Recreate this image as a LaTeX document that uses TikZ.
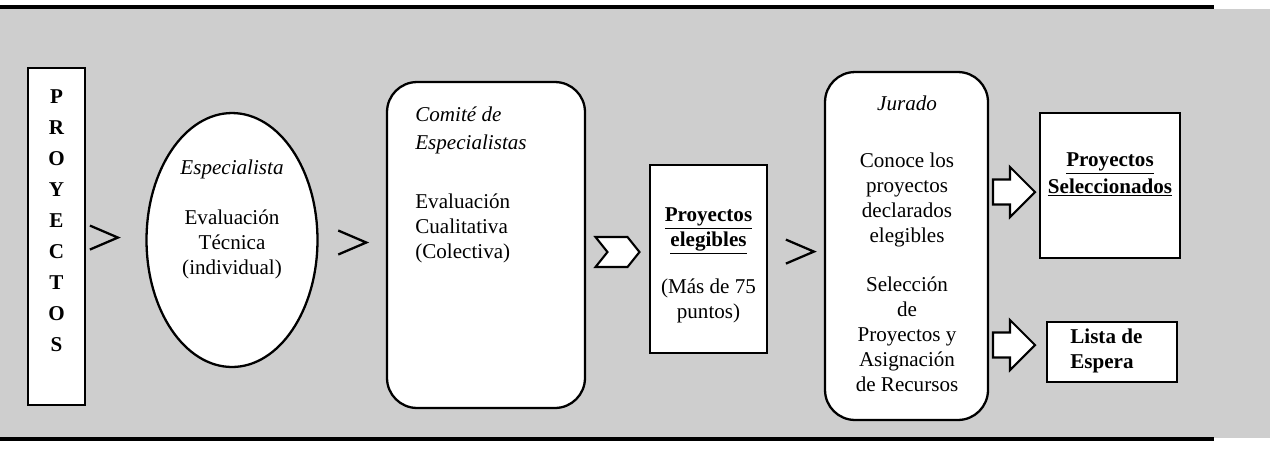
\documentclass[tikz,border=0pt]{standalone}
\usepackage{fontspec}
\setmainfont{Liberation Serif}
\usetikzlibrary{shapes.geometric,calc}
\definecolor{fondo}{RGB}{206,206,206}
\begin{document}
\begin{tikzpicture}[x=0.02cm,y=-0.02cm,
  caja/.style={draw,fill=white,line width=1.3pt,inner sep=0pt},
  txt/.style={inner sep=0pt,font=\fontsize{12}{14.2}\selectfont},
  chev/.pic={\draw[line width=1.3pt] (-14,-12) -- (14,0) -- (-14,12);},
  muesca/.pic={\draw[line width=1.2pt,fill=white] (-22,-15) -- (10,-15) -- (22,0) -- (10,15) -- (-22,15) -- (-10,0) -- cycle;},
  flecha/.pic={\draw[line width=1.2pt,fill=white] (-21,-12.5) -- (-4,-12.5) -- (-4,-25) -- (21,0) -- (-4,25) -- (-4,12.5) -- (-21,12.5) -- cycle;}]
    \useasboundingbox (0,0) rectangle (1273,451);
    \fill[fondo] (0,9) rectangle (1270,438);
    \draw[line width=1.8pt] (0,7) -- (1214,7);
    \draw[line width=2.3pt] (0,439) -- (1214,439);
    % cajas
    \node[caja,minimum width=1.14cm,minimum height=6.74cm] (proy) at (56.5,236.5) {};
    \node[caja,ellipse,minimum width=3.42cm,minimum height=5.08cm] (esp) at (232,240) {};
    \node[caja,rounded corners=0.6cm,minimum width=3.96cm,minimum height=6.52cm] (comite) at (486,245) {};
    \node[caja,minimum width=2.34cm,minimum height=3.76cm] (eleg) at (708.5,259) {};
    \node[caja,rounded corners=0.6cm,minimum width=3.26cm,minimum height=6.96cm] (jurado) at (906.5,246) {};
    \node[caja,minimum width=2.8cm,minimum height=2.9cm] (selec) at (1110,185.5) {};
    \node[caja,minimum width=2.6cm,minimum height=1.2cm] (lista) at (1112,352) {};
    % textos (anclados en la ultima linea)
    \node[txt,align=center,anchor=base,font=\bfseries\fontsize{12}{17.6}\selectfont] (proyT) at (56.5,351) {P\\R\\O\\Y\\E\\C\\T\\O\\S};
    \node[txt,align=center,anchor=base] (espT) at (232,274) {\textit{Especialista}\\[14.2pt]Evaluación\\Técnica\\(individual)};
    \node[txt,align=left,anchor=base west] (comiteT) at (415,258) {\textit{Comité de}\\[1.7pt]\textit{Especialistas}\\[19pt]Evaluación\\Cualitativa\\(Colectiva)};
    \node[txt,align=center,anchor=base] (elegT) at (708.5,318) {\textbf{\underline{Proyectos}}\\\textbf{\underline{elegibles}}\\[12.5pt](Más de 75\\puntos)};
    \node[txt,align=center,anchor=base] (juradoT) at (907,391) {\textit{Jurado}\\[18pt]Conoce los\\proyectos\\declarados\\elegibles\\[13.6pt]Selección\\de\\Proyectos y\\Asignación\\de Recursos};
    \node[txt,align=center,anchor=base,font=\bfseries\fontsize{12}{14.2}\selectfont] (selecT) at (1110,193) {\underline{Proyectos}\\[1.1pt]\underline{Seleccionados}};
    \node[txt,align=left,anchor=base west,font=\bfseries\fontsize{12}{14.2}\selectfont] (listaT) at (1070,368) {Lista de\\Espera};
    % flechas
    \pic at ($(proy.east)!0.3!(esp.west)$) {chev};
    \pic at ($(esp.east)!0.5!(comite.west)$) {chev};
    \pic at ($(comite.east)!0.5!(eleg.west)$) {muesca};
    \pic at ($(eleg.east)!0.57!(jurado.west)$) {chev};
    \pic at (1014,192) {flecha};
    \pic at (1014,345) {flecha};
\end{tikzpicture}
\end{document}
